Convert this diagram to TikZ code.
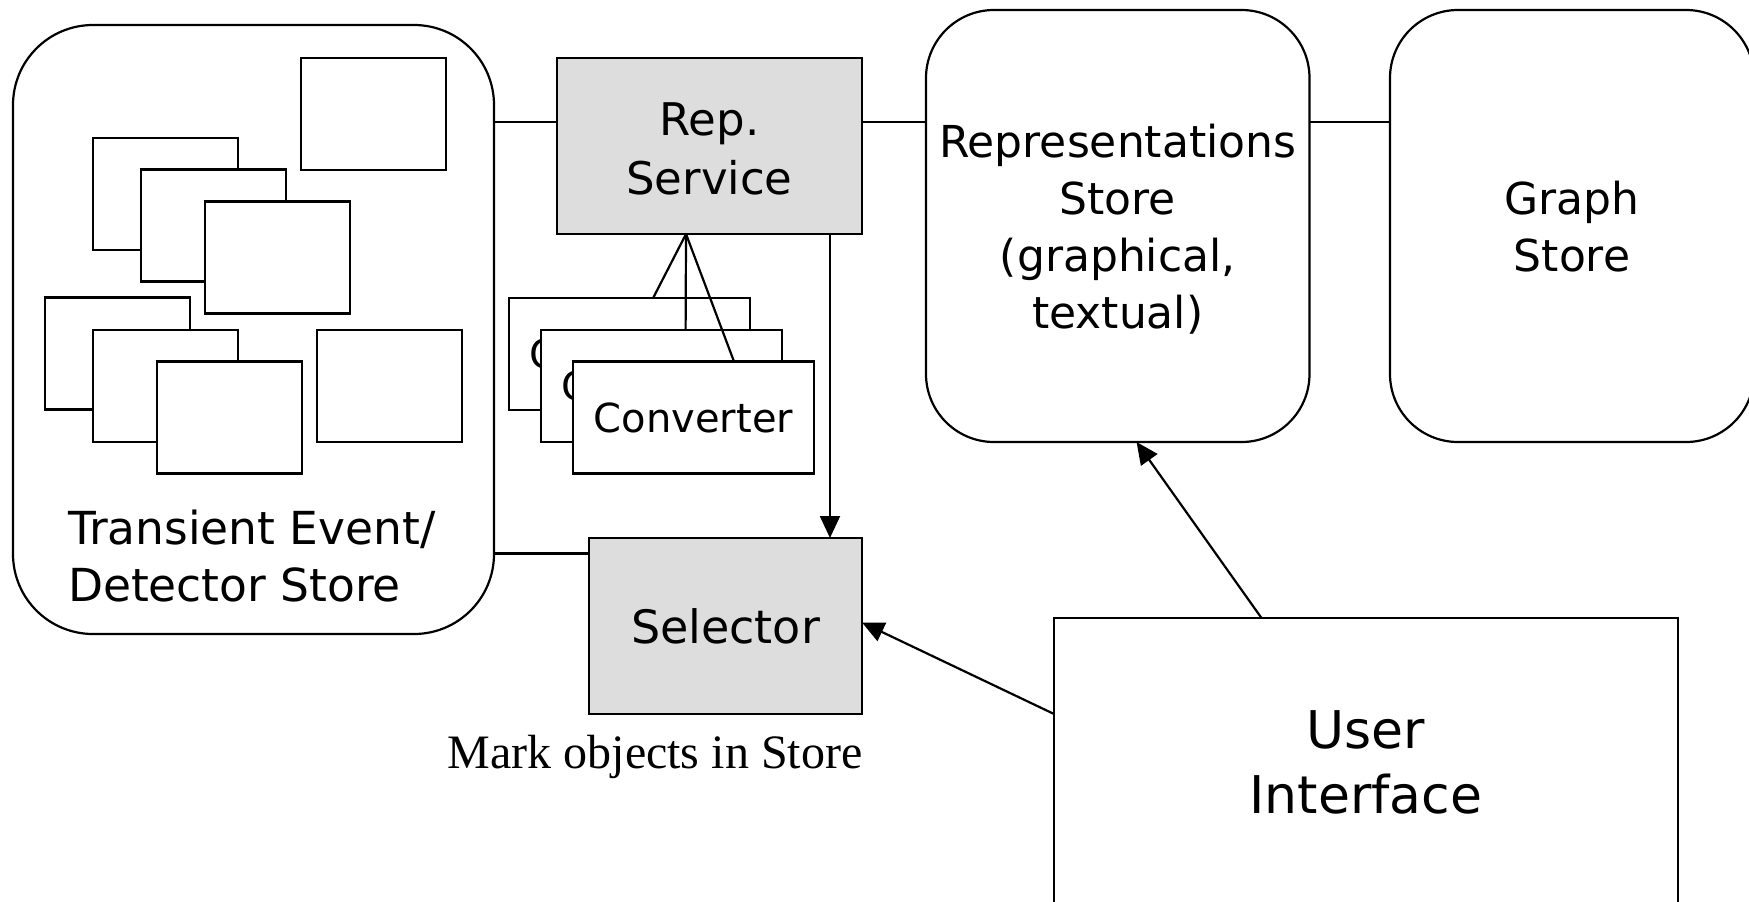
\documentclass[tikz,border=0pt]{standalone}
\usepackage{fontspec}
\setmainfont{DejaVu Sans}
\newfontfamily\markfont{Liberation Serif}
\usetikzlibrary{arrows.meta,calc}
\definecolor{boxgray}{RGB}{221,221,221}
\begin{document}
\begin{tikzpicture}[x=1pt,y=-1pt,
  line width=2.2pt,
  every node/.style={inner sep=0pt, outer sep=0pt},
  store/.style={draw, rounded corners=68pt, align=center, font=\fontsize{44}{57}\selectfont},
  bigstore/.style={draw, rounded corners=80pt},
  card/.style={draw, fill=white, minimum width=241pt, minimum height=112pt, font=\fontsize{40}{50}\selectfont},
  obj/.style={draw, fill=white, minimum width=145pt, minimum height=112pt},
  graybox/.style={draw, fill=boxgray, align=center},
  arr/.style={-{Triangle[length=22pt,width=20pt]}}
]
\useasboundingbox (0,0) rectangle (1749,902);

% Transient Event / Detector Store
\node[bigstore, minimum width=481pt, minimum height=609pt] (tes) at (253.5,329.5) {};
\node[obj] (r1) at (373.5,114) {};
\node[obj] (a1) at (165.5,194) {};
\node[obj] (a2) at (213.5,225.5) {};
\node[obj] (a3) at (277.5,257.5) {};
\node[obj] (b1) at (117.5,353.5) {};
\node[obj] (b2) at (165.5,386) {};
\node[obj] (b3) at (229.5,417.5) {};
\node[obj] (c1) at (389.5,386) {};
\node[anchor=west, align=left, font=\fontsize{45.5}{57}\selectfont] (tesl) at (68,562)
  {Transient Event/\strut\\Detector Store\strut};

% Rep. Service
\node[graybox, minimum width=305pt, minimum height=176pt, font=\fontsize{45}{59}\selectfont] (rs) at (709.5,146)
  {Rep.\rule{0pt}{55pt}\\Service\strut};

% Converters
\node[card] (cv1) at (629.5,354) {Converter};
\node[card] (cv2) at (661.5,386) {Converter};
\node[card] (cv3) at (693.5,417.5) {Converter};

% Selector
\node[graybox, minimum width=273pt, minimum height=176pt, font=\fontsize{46}{58}\selectfont] (sel) at (725.5,626) {Selector};
\node[anchor=base, font=\markfont\fontsize{48}{56}\selectfont] (mark) at (655,768) {Mark objects in Store};

% Stores
\node[store, minimum width=383.5pt, minimum height=432pt] (rst) at (1117.75,226)
  {Representations\rule{0pt}{52pt}\\Store\strut\\(graphical,\strut\\textual)\strut};
\node[store, minimum width=364pt, minimum height=432pt] (gst) at (1572,226)
  {Graph\rule{0pt}{52pt}\\Store\strut};

% User Interface
\node[draw, align=center, minimum width=624pt, minimum height=299pt, font=\fontsize{52}{65}\selectfont] (ui) at (1366,767.5)
  {User\strut\\Interface\strut};

% connectors
\coordinate (ytop) at (0,122);
\coordinate (ybot) at (0,553.5);
\draw (tes.east |- ytop) -- (rs.west |- ytop);
\draw (rs.east |- ytop) -- (rst.west |- ytop);
\draw (rst.east |- ytop) -- (gst.west |- ytop);
\draw (tes.east |- ybot) -- (sel.west |- ybot);

\coordinate (rsb) at ($(rs.south west)!0.423!(rs.south east)$);
\draw (rsb) -- ($(cv1.north west)!0.598!(cv1.north east)$);
\draw (rsb) -- ($(cv2.north west)!0.60!(cv2.north east)$);
\draw (rsb) -- ($(cv3.north west)!0.668!(cv3.north east)$);

\coordinate (rsa) at ($(rs.south west)!0.895!(rs.south east)$);
\draw[arr] (rsa) -- (rsa |- sel.north);

\draw[arr] ($(ui.north west)!0.3325!(ui.north east)$) -- ($(rst.south west)!0.549!(rst.south east)$);
\draw[arr] ($(ui.north west)!0.321!(ui.south west)$) -- ($(sel.north east)!0.48!(sel.south east)$);
\end{tikzpicture}
\end{document}
